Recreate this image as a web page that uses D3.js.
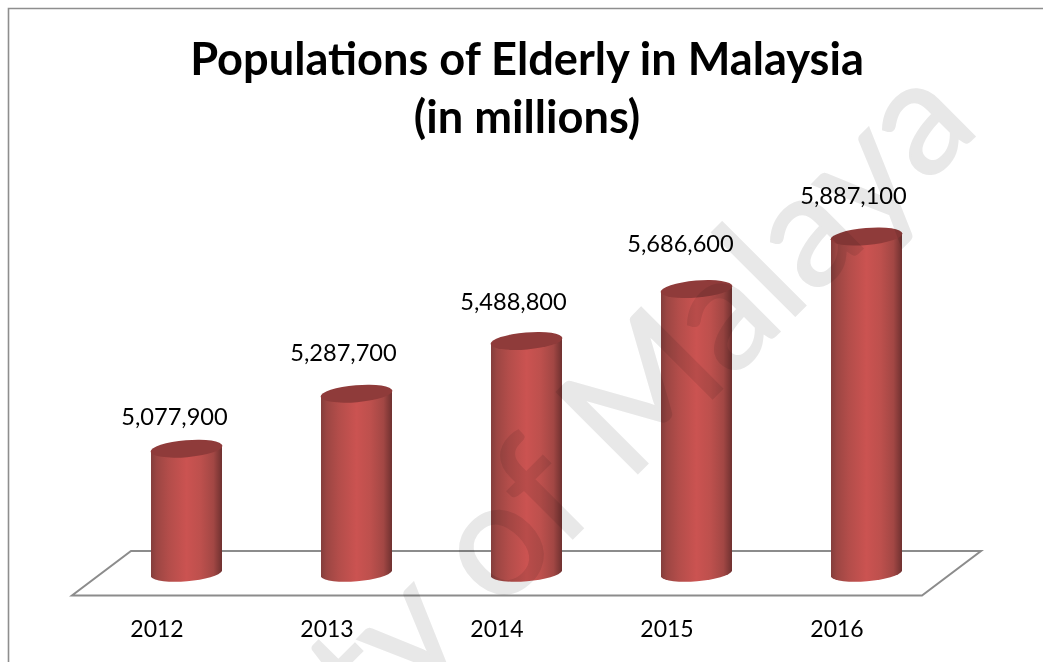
<!DOCTYPE html>
<html>
<head>
<meta charset="utf-8">
<script src="https://cdn.jsdelivr.net/npm/d3@7/dist/d3.min.js"></script>
<style>
html,body{margin:0;padding:0;background:#fff;overflow:hidden}
svg{display:block}
text{font-family:Lato,"Open Sans",sans-serif;fill:#000}
</style>
</head>
<body>
<svg id="chart" width="1043" height="662"></svg>
<script>
const years = ["2012", "2013", "2014", "2015", "2016"];
const population = [5077900, 5287700, 5488800, 5686600, 5887100];
const titleLines = ["Populations of Elderly in Malaysia", "(in millions)"];
const stampText = "University of Malaya";

// Small per-label shifts for the value captions, in pixels.
const captionShiftX = [-11, -12, -12, -15, -12];
const captionShiftY = [-24, -33, -31, -37, -33];

const svg = d3.select("#chart");
const defs = svg.append("defs");

const depth = { x: 59, y: 44.5 };
const floorFront = 595.5;
const floorLeft = 72;
const floorRight = 922;

const xFront = d3.scaleBand().domain(years).range([floorLeft, floorRight]);
const yScale = d3.scaleLinear().domain([4600000, 6000000]).range([574, 206.9]);
const centre = d => xFront(d) + xFront.bandwidth() / 2 + depth.x / 2;

// Shading across the cylinder wall
const wall = defs.append("linearGradient").attr("id", "wall");
[[0, "#843e3c"], [0.08, "#9c4643"], [0.25, "#b34d4a"], [0.5, "#cb5351"], [0.7, "#bd504d"], [0.88, "#a24744"], [1, "#6f3130"]]
  .forEach(([o, c]) => wall.append("stop").attr("offset", o).attr("stop-color", c));

// Page frame: top and left edges only
svg.append("path").attr("d", "M8.5,662V8.5H1043").attr("fill", "none")
  .attr("stroke", "#8e8e8e").attr("stroke-width", 1.6);

// Floor of the 3D plot
svg.append("path")
  .attr("d", `M${floorLeft},${floorFront}L${floorRight},${floorFront}L${floorRight + depth.x},${floorFront - depth.y}L${floorLeft + depth.x},${floorFront - depth.y}Z`)
  .attr("fill", "none").attr("stroke", "#8c8c8c").attr("stroke-width", 2);

// Cylinders
const halfW = 35.5, rise = 3, rx = 36, ry = 8.5;
const tilt = -Math.atan2(2 * rise, 2 * halfW) * 180 / Math.PI;
const base = yScale.domain()[0];
const bars = svg.append("g").selectAll("g").data(years).join("g");

bars.append("path")
  .attr("fill", "url(#wall)")
  .attr("d", (d, i) => {
    const c = centre(d), t = yScale(population[i]), b = yScale(base);
    return `M${c - halfW},${t + rise}L${c - halfW},${b + rise}` +
      `A${rx},${ry} ${tilt} 0 0 ${c + halfW},${b - rise}` +
      `L${c + halfW},${t - rise}` +
      `A${rx},${ry} ${tilt} 0 0 ${c - halfW},${t + rise}Z`;
  });

bars.append("ellipse")
  .attr("fill", "#8f3b3a")
  .attr("rx", rx).attr("ry", ry)
  .attr("transform", (d, i) => `translate(${centre(d)},${yScale(population[i])}) rotate(${tilt})`);

// Value captions
svg.append("g").selectAll("text").data(years).join("text")
  .attr("text-anchor", "middle").attr("font-size", 23.6)
  .attr("x", (d, i) => centre(d) + captionShiftX[i] - 1)
  .attr("y", (d, i) => yScale(population[i]) + captionShiftY[i])
  .text((d, i) => d3.format(",")(population[i]));

// Year labels under the floor
svg.append("g").selectAll("text").data(years).join("text")
  .attr("text-anchor", "middle").attr("font-size", 23)
  .attr("x", d => xFront(d) + xFront.bandwidth() / 2)
  .attr("y", 637)
  .text(d => d);

// Title
svg.append("g").selectAll("text").data(titleLines).join("text")
  .attr("text-anchor", "middle").attr("font-size", 45.2).attr("font-weight", 700)
  .attr("x", 527)
  .attr("y", (d, i) => 75 + i * 58)
  .text(d => d);

// Diagonal stamp across the page, multiplied over everything below it
svg.append("text")
  .text(stampText)
  .attr("text-anchor", "end")
  .attr("transform", "translate(982,129) rotate(-45)")
  .style("font-family", "Lato,sans-serif")
  .style("font-size", "160px")
  .style("fill", "#e8e8e8")
  .style("stroke", "#e8e8e8")
  .style("stroke-width", "2px")
  .style("mix-blend-mode", "multiply");
</script>
</body>
</html>
